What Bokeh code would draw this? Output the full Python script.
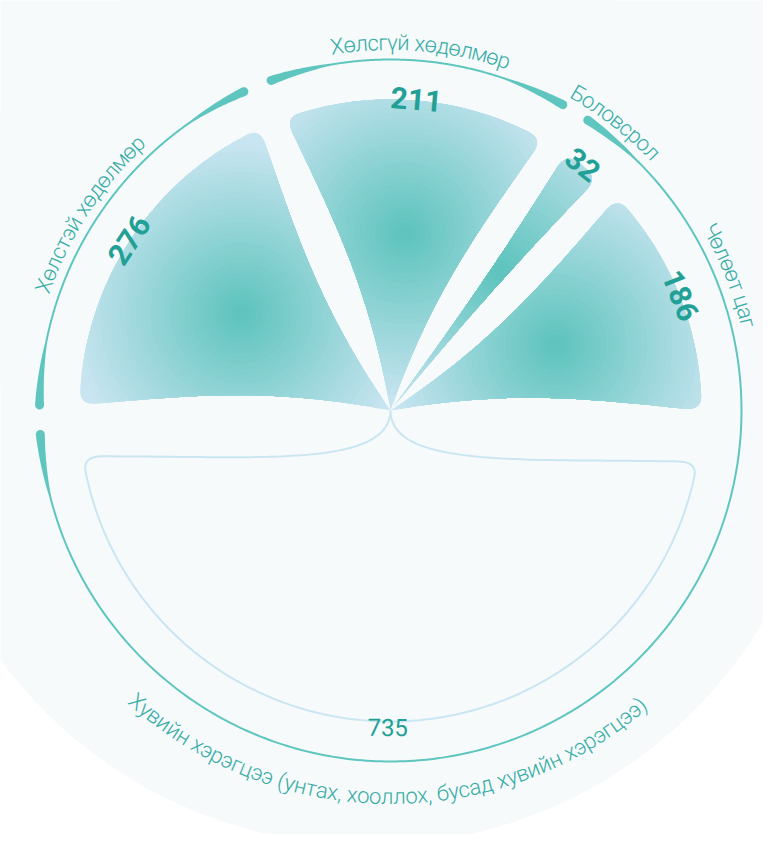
import math
import numpy as np
from bokeh.plotting import figure
from bokeh.models import Range1d, ColumnDataSource
from bokeh.core.properties import value
from bokeh.embed import file_html
from bokeh.resources import INLINE

# ---------------- data ----------------
categories = [
    "Хөлстэй хөдөлмөр",
    "Хөлсгүй хөдөлмөр",
    "Боловсрол",
    "Чөлөөт цаг",
    "Хувийн хэрэгцээ (унтах, хооллох, бусад хувийн хэрэгцээ)",
]
minutes = [276, 211, 32, 186, 735]
value_labels = ["276", "211", "32", "186", "735"]
filled = [True, True, True, True, False]
ring_group = [0, 1, 2, 2, 2]

# ---------------- style / geometry ----------------
START = 179.0      # degrees (math), counter-clockwise end of first petal
GAP = 5.0          # degrees between petals
R_PETAL = 311.0
R_RING = 351.0
R_LAB_OUT = 368.0
R_LAB_IN = 386.0
R_VAL = 312.0
RHO = 15.0
GRAD_C = 178.0
GRAD_R = 172.0
OUTLINE_INSET = 4.5

BG = "#f6fafb"
RING = "#5fc6bf"
LAB = "#38ada6"
VAL = "#22a096"
EDGE_RGB = (201, 229, 241)
CENTER_RGB = (92, 195, 188)

W, H = 763, 834
OX, OY = 390, 410  # chart centre inside the figure (pixels)


def pol(r, deg):
    a = math.radians(deg)
    return np.array([r * math.cos(a), r * math.sin(a)])


def bezier(p0, p1, p2, p3, n=80):
    t = np.linspace(0, 1, n)[:, None]
    return (1 - t) ** 3 * p0 + 3 * (1 - t) ** 2 * t * p1 + 3 * (1 - t) * t ** 2 * p2 + t ** 3 * p3


def qround(a, c, b, n=10):
    t = np.linspace(0, 1, n)[:, None]
    return (1 - t) ** 2 * a + 2 * (1 - t) * t * c + t ** 2 * b


def petal(lo, hi, dep, arr, l1, l2, R, rho):
    o = np.zeros(2)
    cl, ch = pol(R, lo), pol(R, hi)
    sl = bezier(o, pol(l1, lo + dep), cl - pol(l2, lo - arr), cl)
    sh = bezier(o, pol(l1, hi - dep), ch - pol(l2, hi + arr), ch)

    def trim(s, c):
        d = np.hypot(*(s - c).T)
        idx = np.where(d >= rho)[0]
        return s[: idx[-1] + 1]

    sl, sh = trim(sl, cl), trim(sh, ch)
    dr = math.degrees(rho / R)
    ang = np.linspace(lo + dr, hi - dr, max(8, int(hi - lo)))
    arc = np.array([pol(R, a) for a in ang])
    rl = qround(sl[-1], cl, arc[0])
    rh = qround(arc[-1], ch, sh[-1])
    return np.vstack([sl, rl[1:-1], arc, rh[1:-1], sh[::-1]])


def clip_convex(subject, clipper):
    out = [tuple(p) for p in subject]
    m = len(clipper)
    for i in range(m):
        ax, ay = clipper[i]
        bx, by = clipper[(i + 1) % m]
        ex, ey = bx - ax, by - ay
        inp = out
        out = []
        if not inp:
            break

        def side(p):
            return ex * (p[1] - ay) - ey * (p[0] - ax)

        s = inp[-1]
        ss = side(s)
        for e in inp:
            se = side(e)
            if se >= 0:
                if ss < 0:
                    t = ss / (ss - se)
                    out.append((s[0] + t * (e[0] - s[0]), s[1] + t * (e[1] - s[1])))
                out.append(e)
            elif ss >= 0:
                t = ss / (ss - se)
                out.append((s[0] + t * (e[0] - s[0]), s[1] + t * (e[1] - s[1])))
            s, ss = e, se
    return out


def hexc(rgb):
    return "#%02x%02x%02x" % tuple(int(round(v)) for v in rgb)


def ring_piece(a0, a1, R, w_thin=2.0, w_thick=9.0, taper=62.0, n=300):
    th = np.linspace(a0, a1, n)
    d = np.minimum(a0 - th, th - a1) * math.pi / 180 * R
    w = w_thin + (w_thick - w_thin) * np.clip(1 - d / taper, 0, 1)
    outer = np.array([pol(R + wi / 2, t) for t, wi in zip(th, w)])
    inner = np.array([pol(R - wi / 2, t) for t, wi in zip(th, w)])
    h = w_thick / 2
    phis = np.linspace(0, math.pi, 12)
    r1 = math.radians(a1)
    e1 = pol(R, a1)
    n1 = np.array([math.cos(r1), math.sin(r1)])
    t1 = np.array([math.sin(r1), -math.cos(r1)])
    cap1 = np.array([e1 + h * (math.cos(f) * n1 + math.sin(f) * t1) for f in phis])
    r0 = math.radians(a0)
    e0 = pol(R, a0)
    n0 = np.array([math.cos(r0), math.sin(r0)])
    t0 = np.array([-math.sin(r0), math.cos(r0)])
    cap0 = np.array([e0 + h * (-math.cos(f) * n0 + math.sin(f) * t0) for f in phis])
    return np.vstack([outer, cap1, inner[::-1], cap0])


CW = {' ': 0.248, 'Х': 0.619, 'Б': 0.605, 'Ч': 0.595, 'а': 0.531, 'б': 0.552, 'в': 0.533,
      'г': 0.415, 'д': 0.58, 'е': 0.517, 'и': 0.57, 'й': 0.57, 'л': 0.57, 'м': 0.69,
      'н': 0.56, 'о': 0.557, 'р': 0.548, 'с': 0.511, 'т': 0.49, 'у': 0.473, 'х': 0.484,
      'ц': 0.57, 'э': 0.52, 'ө': 0.557, 'ү': 0.473, '(': 0.333, ')': 0.333, ',': 0.192}

# ---------------- layout from data ----------------
total = sum(minutes)
k = (360.0 - GAP * len(minutes)) / total
a_hi, a_lo = [], []
cur = START
for m in minutes:
    a_hi.append(cur)
    cur -= m * k
    a_lo.append(cur)
    cur -= GAP
mids = [(h + l) / 2 for h, l in zip(a_hi, a_lo)]

# ---------------- figure ----------------
p = figure(width=W, height=H, x_range=Range1d(-OX, W - OX), y_range=Range1d(-(H - OY), OY),
           output_backend="svg", toolbar_location=None, min_border=0)
p.axis.visible = False
p.grid.visible = False
p.outline_line_color = None
p.background_fill_color = "white"
p.border_fill_color = "white"

# background shape
bg_t = np.linspace(0, 2 * np.pi, 240)
p.patch(-21.5 + 459 * np.cos(bg_t), 24 + 459 * np.sin(bg_t), fill_color=BG, line_color=None)
p.quad(left=-420, right=420, bottom=24, top=430, fill_color=BG, line_color=None)

# petals
disk_t = np.linspace(0, 2 * np.pi, 49)[:-1]
NLEV = 34
pxs, pys, pcols = [], [], []
for i, m in enumerate(minutes):
    lo, hi = a_lo[i], a_hi[i]
    span = hi - lo
    if filled[i]:
        poly = petal(lo, hi, min(10.0, 0.3 * span), min(6.0, 0.3 * span), 125, 110, R_PETAL,
                     min(RHO, 0.35 * span * math.pi / 180 * R_PETAL))
        pxs.append(list(poly[:, 0]))
        pys.append(list(poly[:, 1]))
        pcols.append(hexc(EDGE_RGB))
        gc = pol(GRAD_C, mids[i])
        for j in range(NLEV):
            r = GRAD_R * (NLEV - j) / NLEV
            dmid = r - GRAD_R / NLEV / 2
            f = max(0.0, min(1.0, dmid / GRAD_R))
            col = [c + (e - c) * f for c, e in zip(CENTER_RGB, EDGE_RGB)]
            disk = [(gc[0] + r * math.cos(t), gc[1] + r * math.sin(t)) for t in disk_t]
            cl = clip_convex(poly, disk)
            if len(cl) >= 3:
                pxs.append([q[0] for q in cl])
                pys.append([q[1] for q in cl])
                pcols.append(hexc(col))
    else:
        poly = petal(lo + OUTLINE_INSET, hi - OUTLINE_INSET, 80.0, 8.0, 60, 165, R_PETAL, RHO)
        p.patch(poly[:, 0], poly[:, 1], fill_color=None, line_color="#c9e6f2", line_width=2)
p.patches(pxs, pys, fill_color=pcols, line_color=None)

# ring
groups = sorted(set(ring_group))
for g in groups:
    idx = [i for i, gg in enumerate(ring_group) if gg == g]
    a0 = a_hi[idx[0]] + GAP / 2 - 2.4
    a1 = a_lo[idx[-1]] - GAP / 2 + 2.4
    rp = ring_piece(a0, a1, R_RING)
    p.patch(rp[:, 0], rp[:, 1], fill_color=RING, line_color=None)

# curved category labels
FS = 22.0
WF = 0.97  # light weight is slightly narrower
lx, ly, lt, la = [], [], [], []
for i, lab in enumerate(categories):
    mid = math.radians(mids[i])
    flip = math.sin(mid) < 0
    r = R_LAB_IN if flip else R_LAB_OUT
    widths = [CW.get(ch, 0.55) * FS * WF for ch in lab]
    span = sum(widths) / r
    cum = 0.0
    for ch, w in zip(lab, widths):
        s = (cum + w / 2) / r
        cum += w
        if ch == ' ':
            continue
        if flip:
            a = mid - span / 2 + s
            rot = a + math.pi / 2
        else:
            a = mid + span / 2 - s
            rot = a - math.pi / 2
        lx.append(r * math.cos(a))
        ly.append(r * math.sin(a))
        lt.append(ch)
        la.append(rot)
p.text(x="x", y="y", text="t", angle="a", source=ColumnDataSource(dict(x=lx, y=ly, t=lt, a=la)),
       text_align="center", text_baseline="alphabetic", text_color=LAB,
       text_font=value("Roboto Light, Roboto"), text_font_size="22px")

# values
vx, vy, vt, va, vx2, vy2, vt2, va2 = [], [], [], [], [], [], [], []
for i, v in enumerate(value_labels):
    mid = math.radians(mids[i])
    flip = math.sin(mid) < 0
    if filled[i]:
        vx.append(R_VAL * math.cos(mid)); vy.append(R_VAL * math.sin(mid))
        vt.append(v); va.append(mid - math.pi / 2)
    else:
        rr = R_VAL + 5
        vx2.append(rr * math.cos(mid)); vy2.append(rr * math.sin(mid))
        vt2.append(v); va2.append(mid + math.pi / 2 if flip else mid - math.pi / 2)
p.text(x="x", y="y", text="t", angle="a", source=ColumnDataSource(dict(x=vx, y=vy, t=vt, a=va)),
       text_align="center", text_baseline="middle", text_color=VAL,
       text_font=value("Roboto"), text_font_style="bold", text_font_size="30px")
p.text(x="x", y="y", text="t", angle="a", source=ColumnDataSource(dict(x=vx2, y=vy2, t=vt2, a=va2)),
       text_align="center", text_baseline="middle", text_color=VAL,
       text_font=value("Roboto"), text_font_size="24px")

open("out.html", "w").write(file_html(p, INLINE))
